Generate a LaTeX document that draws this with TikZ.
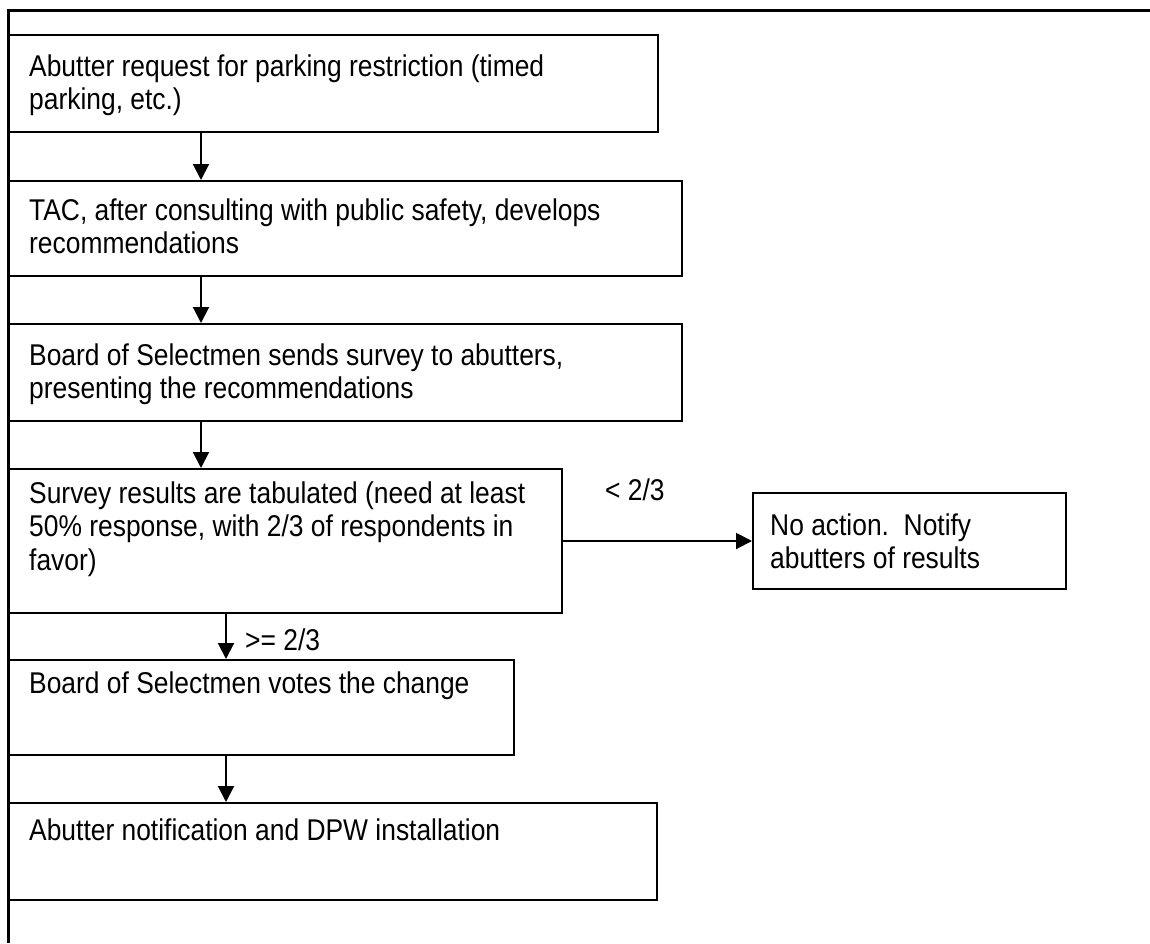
\documentclass[tikz,border=0pt]{standalone}
\usepackage{fontspec}
\setmainfont[FakeStretch=0.88]{Liberation Sans}
\usetikzlibrary{arrows.meta}
\tikzset{
  box/.style={draw, line width=2pt, rectangle, inner sep=0pt, anchor=north west},
  txt/.style={anchor=base west, align=left, inner sep=0pt, font=\fontsize{30}{33.5}\selectfont},
  arr/.style={line width=2pt, -{Triangle[width=16pt,length=16pt]}},
  frame/.style={line width=3pt}
}
\begin{document}
\begin{tikzpicture}[x=1pt,y=-1pt]
\useasboundingbox (0,0) rectangle (1150,943);
% outer frame
\coordinate (ftl) at (8,10);
\coordinate (ftr) at (1150,10);
\coordinate (fbl) at (8,943);
\draw[frame] (ftr) -- (ftl) -- (fbl);
% boxes
\node[box, minimum width=649pt, minimum height=97pt] (b1) at (8,34) {};
\node[box, minimum width=673pt, minimum height=95pt] (b2) at (8,180) {};
\node[box, minimum width=673pt, minimum height=97pt] (b3) at (8,323) {};
\node[box, minimum width=553pt, minimum height=144pt] (b4) at (8,468) {};
\node[box, minimum width=313pt, minimum height=96pt] (b5) at (752,492) {};
\node[box, minimum width=505pt, minimum height=95pt] (b6) at (8,659) {};
\node[box, minimum width=648pt, minimum height=97pt] (b7) at (8,802) {};
% texts (anchor = baseline of last line)
\node[txt] (t1) at (29,109.5) {Abutter request for parking restriction (timed\\parking, etc.)};
\node[txt] (t2) at (29,253.5) {TAC, after consulting with public safety, develops\\recommendations};
\node[txt] (t3) at (29,398.5) {Board of Selectmen sends survey to abutters,\\presenting the recommendations};
\node[txt] (t4) at (29,570) {Survey results are tabulated (need at least\\50\% response, with 2/3 of respondents in\\favor)};
\node[txt] (t5) at (770,568.5) {No action.~~Notify\\abutters of results};
\node[txt] (t6) at (29,693) {Board of Selectmen votes the change};
\node[txt] (t7) at (29,840) {Abutter notification and DPW installation};
% connectors
\coordinate (c1) at (201,0);
\coordinate (c2) at (226,0);
\draw[arr] (b1.south -| c1) -- (b2.north -| c1);
\draw[arr] (b2.south -| c1) -- (b3.north -| c1);
\draw[arr] (b3.south -| c1) -- (b4.north -| c1);
\draw[arr] (b4.south -| c2) -- (b6.north -| c2);
\draw[arr] (b6.south -| c2) -- (b7.north -| c2);
\draw[arr] (b4.east) -- (b5.west);
% labels
\node[txt] (l1) at (605,500) {< 2/3};
\node[txt] (l2) at (245,650) {>= 2/3};
\end{tikzpicture}
\end{document}
